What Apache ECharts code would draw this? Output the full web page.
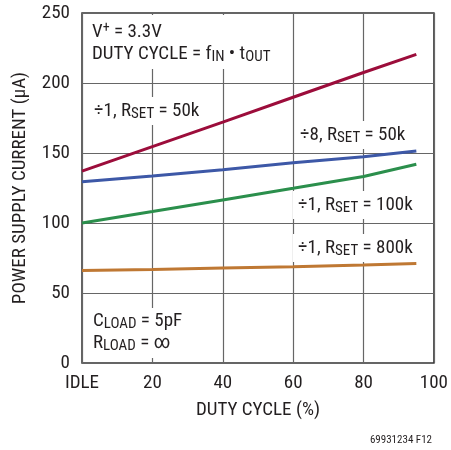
<!DOCTYPE html>
<html>
<head>
<meta charset="utf-8">
<script src="https://cdn.jsdelivr.net/npm/echarts@6/dist/echarts.min.js"></script>
<style>html,body{margin:0;padding:0;background:#fff;}#c{width:451px;height:450px;}</style>
</head>
<body>
<div id="c"></div>
<script>
// Data
const dutyCycle = [0, 20, 40, 60, 80, 95];
const div1_50k  = [137, 154.5, 172, 189.8, 207.5, 220.5];
const div8_50k  = [129.5, 133.6, 138, 143, 147.3, 151.5];
const div1_100k = [100, 108.2, 116.5, 124.8, 133.2, 142];
const div1_800k = [66, 66.7, 67.8, 68.8, 70, 71];
const xTicks = {0: 'IDLE', 20: '20', 40: '40', 60: '60', 80: '80', 100: '100'};
const yTicks = [0, 50, 100, 150, 200, 250];

const FONT = '"Liberation Sans Narrow", "Arial Narrow", "Roboto Condensed", Roboto, sans-serif';
const TXT = '#231f20';

const chart = echarts.init(document.getElementById('c'), null, {renderer: 'canvas'});

function pairs(ys) { return dutyCycle.map((x, i) => [x, ys[i]]); }

const rich = {
  m: {fontSize: 19, lineHeight: 22, verticalAlign: 'middle', fontFamily: FONT, color: TXT},
  s: {fontSize: 15, lineHeight: 10, verticalAlign: 'bottom', fontFamily: FONT, color: TXT},
  u: {fontSize: 14, lineHeight: 10, verticalAlign: 'top', fontFamily: FONT, color: TXT}
};

function label(x, y, text, pad) {
  return {
    type: 'text', x: x, y: y, z: 50,
    style: {
      text: text, rich: rich, fontFamily: FONT, fontSize: 19, fill: TXT,
      backgroundColor: '#fff', padding: pad || [3, 5, 3, 5]
    }
  };
}

const lineSeries = (name, ys, color) => ({
  name: name, type: 'line', data: pairs(ys), symbol: 'none', smooth: false,
  lineStyle: {color: color, width: 3}, z: 5
});

chart.setOption({
  animation: false,
  backgroundColor: '#fff',
  grid: {left: 82, right: 17, top: 13, bottom: 87, show: true, borderColor: '#333', borderWidth: 1.5, backgroundColor: 'transparent'},
  xAxis: {
    type: 'value', min: 0, max: 100, interval: 20,
    name: 'DUTY CYCLE (%)', nameLocation: 'middle', nameGap: 38,
    nameTextStyle: {fontFamily: FONT, fontSize: 19, color: TXT},
    axisLine: {show: false}, axisTick: {show: false},
    axisLabel: {fontFamily: FONT, fontSize: 19, color: TXT, margin: 11, formatter: v => xTicks[v]},
    splitLine: {show: true, lineStyle: {color: '#666', width: 1.2}}
  },
  yAxis: {
    type: 'value', min: yTicks[0], max: yTicks[yTicks.length - 1], interval: 50,
    name: 'POWER SUPPLY CURRENT (µA)', nameLocation: 'middle', nameGap: 52,
    nameTextStyle: {fontFamily: FONT, fontSize: 19, color: TXT},
    axisLine: {show: false}, axisTick: {show: false},
    axisLabel: {fontFamily: FONT, fontSize: 19, color: TXT, margin: 12},
    splitLine: {show: true, lineStyle: {color: '#666', width: 1.2}}
  },
  series: [
    lineSeries('÷1, RSET = 50k', div1_50k, '#9c0d3b'),
    lineSeries('÷8, RSET = 50k', div8_50k, '#3d58a7'),
    lineSeries('÷1, RSET = 100k', div1_100k, '#2b8f4c'),
    lineSeries('÷1, RSET = 800k', div1_800k, '#bf7833')
  ],
  graphic: [
    label(84, 15, '{m|V}{u|+}{m| = 3.3V}\n{m|DUTY CYCLE = f}{s|IN}{m| • t}{s|OUT}', [6, 8, 4, 8]),
    label(89, 97, '{m|÷1, R}{s|SET}{m| = 50k}'),
    label(295, 121, '{m|÷8, R}{s|SET}{m| = 50k}'),
    label(293, 191, '{m|÷1, R}{s|SET}{m| = 100k}'),
    label(293, 234, '{m|÷1, R}{s|SET}{m| = 800k}'),
    label(86, 308, '{m|C}{s|LOAD}{m| = 5pF}\n{m|R}{s|LOAD}{m| = ∞}', [2, 6, 4, 7]),
    {type: 'text', right: 19, top: 435, style: {text: '69931234 F12', fontFamily: FONT, fontSize: 11, fill: TXT}}
  ]
});
</script>
</body>
</html>
